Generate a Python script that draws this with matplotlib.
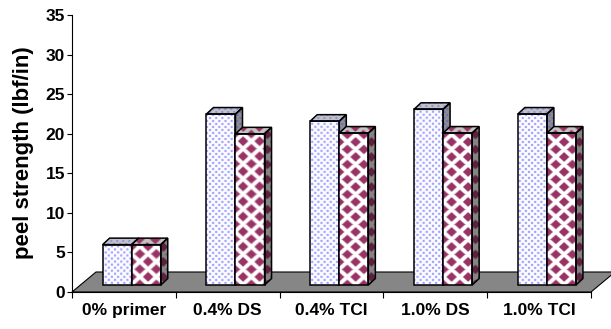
import numpy as np
import matplotlib
matplotlib.use("Agg")
import matplotlib.pyplot as plt
from matplotlib.patches import Polygon
from matplotlib.colors import to_rgb

categories = ["0% primer", "0.4% DS", "0.4% TCI", "1.0% DS", "1.0% TCI"]
dotted_vals = [5.1, 21.6, 20.7, 22.2, 21.6]
diamond_vals = [5.1, 19.1, 19.2, 19.2, 19.2]
y_ticks = [0, 5, 10, 15, 20, 25, 30, 35]

plt.rcParams['font.family'] = ['Liberation Sans', 'DejaVu Sans']
plt.rcParams['font.weight'] = 'bold'

W, H = 611, 329
fig = plt.figure(figsize=(W / 100, H / 100), dpi=100)
left_px, right_px, bottom_px, top_px = 72, 591, 292, 15
ax = fig.add_axes([left_px / W, 1 - bottom_px / H,
                   (right_px - left_px) / W, (bottom_px - top_px) / H])
ncat = len(categories)
ymax = y_ticks[-1]
sx = (right_px - left_px) / ncat   # pixels per category
sy = (bottom_px - top_px) / ymax   # pixels per value unit

# fake 3d geometry (in data units)
floor_dx, floor_dy = 24 / sx, 20 / sy
bar_dx, bar_dy = 7 / sx, 6.5 / sy
base = 7 / sy
bar_w = 0.28
shift = 0.075

tex_ext = (-0.2, 5.4, -1.0, 36.0)


def texture(kind, bg, fg):
    nx = int(round((tex_ext[1] - tex_ext[0]) * sx))
    ny = int(round((tex_ext[3] - tex_ext[2]) * sy))
    u, v = np.meshgrid(np.arange(nx) + 0.5, np.arange(ny) + 0.5)
    if kind == 'dots':
        p = 6.0
        d1 = np.hypot(u % p - p / 2, v % p - p / 2)
        d2 = np.hypot((u + p / 2) % p - p / 2, (v + p / 2) % p - p / 2)
        a = np.clip(1.7 - np.minimum(d1, d2), 0, 1) * 0.9
    else:
        px, py = 16.0, 15.0
        def l1(ox, oy):
            return (np.abs((u + ox) % px - px / 2) / (px / 2)
                    + np.abs((v + oy) % py - py / 2) / (py / 2))
        dn = np.minimum(l1(0, 0), l1(px / 2, py / 2))
        a = np.clip((0.64 - dn) / 0.22 + 0.5, 0, 1)
    bg = np.array(to_rgb(bg))
    fg = np.array(to_rgb(fg))
    return bg * (1 - a[..., None]) + fg * a[..., None]


tex = {
    'dots': [texture('dots', 'white', '#9999ff'),
             texture('dots', '#c4c4c8', '#8c8ce0'),
             texture('dots', '#8e8e92', '#6a6ab8')],
    'diam': [texture('diam', 'white', '#993366'),
             texture('diam', '#c4c4c4', '#993366'),
             texture('diam', '#858585', '#5e2040')],
}


def fill(patch, img, z):
    im = ax.imshow(img, extent=tex_ext, origin='upper', aspect='auto',
                   interpolation='bilinear', zorder=z)
    im.set_clip_path(patch)


# floor
floor = Polygon([(0, 0), (ncat, 0), (ncat + floor_dx, floor_dy), (floor_dx, floor_dy)],
                closed=True, facecolor='#868686', edgecolor='black', lw=0.8,
                zorder=1, clip_on=False)
ax.add_patch(floor)

x = np.arange(ncat) + 0.5 + shift
z = 2
for i in range(ncat):
    for xl, val, key in [(x[i] - bar_w, dotted_vals[i], 'dots'),
                         (x[i], diamond_vals[i], 'diam')]:
        front = ax.bar(xl, val, width=bar_w, bottom=base, align='edge',
                       facecolor='none', edgecolor='black', lw=1.1, zorder=z + 1)[0]
        fill(front, tex[key][0], z)
        y1 = base + val
        top = Polygon([(xl, y1), (xl + bar_w, y1), (xl + bar_w + bar_dx, y1 + bar_dy),
                       (xl + bar_dx, y1 + bar_dy)], closed=True,
                      facecolor='none', edgecolor='black', lw=1.1, zorder=z + 1)
        ax.add_patch(top)
        fill(top, tex[key][1], z)
        xr = xl + bar_w
        side = Polygon([(xr, base), (xr + bar_dx, base + bar_dy),
                        (xr + bar_dx, y1 + bar_dy), (xr, y1)], closed=True,
                       facecolor='none', edgecolor='black', lw=1.1, zorder=z + 1)
        ax.add_patch(side)
        fill(side, tex[key][2], z)
        z += 2

ax.set_xlim(0, ncat)
ax.set_ylim(0, ymax)
ax.set_yticks(y_ticks)
ax.set_xticks(np.arange(ncat + 1))
ax.set_xticklabels([])
ax.set_xticks(np.arange(ncat) + 0.5, minor=True)
ax.set_xticklabels(categories, minor=True)
ax.tick_params(axis='x', which='major', direction='out', length=4.5, width=0.8)
ax.tick_params(axis='x', which='minor', length=0, pad=8, labelsize=12.5)
ax.tick_params(axis='y', direction='out', length=3.6, width=0.8, pad=1.5, labelsize=12.5)
for s in ['top', 'right']:
    ax.spines[s].set_visible(False)
for s in ['left', 'bottom']:
    ax.spines[s].set_linewidth(0.8)
ax.set_facecolor('none')

fig.text(24 / W, 1 - 153 / H, 'peel strength (lbf/in)', rotation=90,
         ha='center', va='center', fontsize=16, fontweight='bold')

fig.savefig('out.png', dpi=100)
